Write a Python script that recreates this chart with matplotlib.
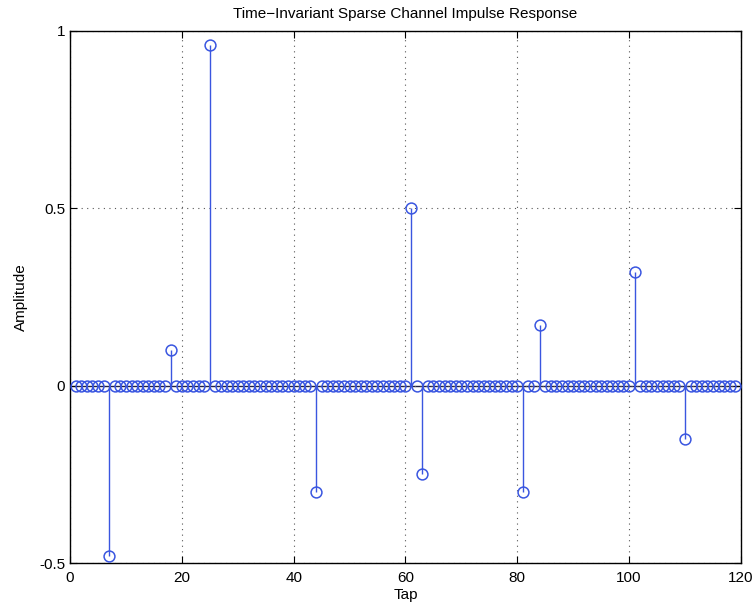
import numpy as np
import matplotlib
matplotlib.use("Agg")
import matplotlib.pyplot as plt

plt.rcParams['font.family'] = ['Liberation Sans', 'DejaVu Sans']

taps = list(range(1, 120))
spike_taps = [7, 18, 25, 44, 61, 63, 81, 84, 101, 110]
spike_vals = [-0.48, 0.10, 0.96, -0.30, 0.50, -0.25, -0.30, 0.17, 0.32, -0.15]
xticks = [0, 20, 40, 60, 80, 100, 120]
yticks = [-0.5, 0, 0.5, 1]
ytick_labels = ['-0.5', '0', '0.5', '1']

amp = np.zeros(len(taps))
for t, v in zip(spike_taps, spike_vals):
    amp[taps.index(t)] = v

col = '#3a56e0'
fig = plt.figure(figsize=(7.56, 6.05), dpi=100)
ax = fig.add_axes([0.0926, 0.0694, 0.8874, 0.8794])

ax.axhline(0, color='#222244', lw=1.0, zorder=1)
ax.vlines(taps, 0, amp, color=col, lw=1.0, zorder=2)
ax.plot(taps, amp, 'o', mfc='none', mec=col, ms=7.8, mew=1.1, zorder=3)

ax.set_xlim(0, 120)
ax.set_ylim(-0.5, 1)
ax.set_xticks(xticks)
ax.set_yticks(yticks)
ax.set_yticklabels(ytick_labels)
ax.grid(True, linestyle=(0, (1, 4)), color='#555555', lw=0.8)
ax.tick_params(direction='in', top=True, right=True, labelsize=11, length=5)
ax.tick_params(axis='x', pad=6)
for s in ax.spines.values():
    s.set_linewidth(1.0)

ax.set_title('Time\u2212Invariant Sparse Channel Impulse Response', fontsize=11, pad=9)
ax.set_xlabel('Tap', fontsize=11, labelpad=2)
ax.set_ylabel('Amplitude', fontsize=11, labelpad=8)

fig.savefig('out.png', dpi=100)
